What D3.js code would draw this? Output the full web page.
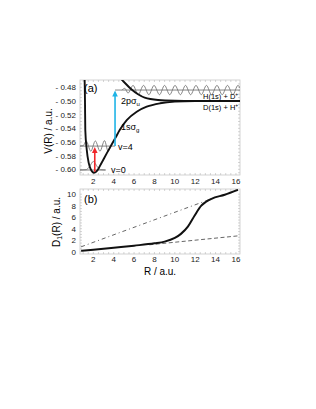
<!DOCTYPE html>
<html>
<head>
<meta charset="utf-8">
<script src="https://cdn.jsdelivr.net/npm/d3@7"></script>
<style>
  body { margin: 0; background: #fff; }
  text { font-family: "Liberation Sans", Arial, sans-serif; }
</style>
</head>
<body>
<script>
// ---- data ----
const rTicks = [2, 4, 6, 8, 10, 12, 14, 16]
const vTicks = [-0.48, -0.50, -0.52, -0.54, -0.56, -0.58, -0.60]
const dTicks = [0, 2, 4, 6, 8, 10]

// 1s sigma_g potential  [R, V]
const groundCurve = [[1.13, -0.462], [1.16, -0.480], [1.18, -0.500], [1.21, -0.5425], [1.35, -0.571],
    [1.55, -0.591], [1.75, -0.600], [2.07, -0.605], [2.4, -0.6015], [2.79, -0.591], [3.3, -0.577],
    [3.77, -0.5645], [4.2, -0.553], [4.59, -0.5425], [5.28, -0.528], [6.26, -0.5157], [7.24, -0.5084],
    [8.55, -0.5034], [10, -0.5010], [12, -0.5002], [16.4, -0.5]]
// 2p sigma_u potential
const excitedCurve = [[4.5, -0.462], [4.75, -0.468], [5.08, -0.4733], [5.73, -0.4829], [6.39, -0.4902],
    [7.04, -0.4952], [8.35, -0.4986], [10, -0.4996], [12, -0.4999], [16.4, -0.5]]

// vibrational levels and wave functions
const levelV0 = -0.601
const levelV4 = -0.566
const levelUp = -0.484
const waveV0 = [[0.69, -0.601], [1.3, -0.6005], [1.6, -0.5965], [2.0, -0.5885], [2.4, -0.5965],
    [2.7, -0.6005], [3.2, -0.601]]
const waveV4 = [[0.69, -0.566], [1.0, -0.5655], [1.3, -0.5585], [1.75, -0.5735], [2.2, -0.5585],
    [2.65, -0.5735], [3.1, -0.558], [3.45, -0.5735], [3.7, -0.566]]
const waveUp = [[4.8, -0.484], [5.1, -0.4815], [5.4, -0.4885], [5.9, -0.4772], [6.4, -0.4908],
    [6.93, -0.4772], [7.45, -0.4908], [7.96, -0.4772], [8.5, -0.4908], [8.99, -0.4772], [9.5, -0.4908],
    [10.02, -0.4772], [10.55, -0.4908], [11.05, -0.4772], [11.55, -0.4908], [12.08, -0.4772],
    [12.6, -0.4908], [13.11, -0.4772], [13.6, -0.4908], [14.14, -0.4772], [14.65, -0.4908],
    [15.17, -0.4772], [15.7, -0.4908], [16.2, -0.4772], [16.4, -0.481]]

// excitation arrows  [R, from V, to V]
const redArrow = [2.14, -0.6035, -0.5675]
const blueArrow = [4.13, -0.566, -0.4845]

// panel (b)  [R, D1]
const dipoleSolid = [[0.8, 0.15], [2, 0.35], [4, 0.7], [6, 1.05], [8, 1.45], [9, 1.75], [10, 2.4],
    [10.6, 3.1], [11.3, 4.4], [11.95, 6.3], [12.6, 8.0], [13.0, 8.6], [13.6, 9.2], [14.9, 9.9], [16.2, 10.75]]
const dipoleDashDot = [[0.8, 0.85], [13.6, 9.2]]
const dipoleDashed = [[7.5, 1.2], [16.2, 2.75]]

// ---- layout ----
const width = 316, height = 409
const svg = d3.select("body").append("svg")
    .attr("width", width)
    .attr("height", height)

const x = d3.scaleLinear().domain([0.69, 16.4]).range([80, 240])
const yA = d3.scaleLinear().domain([-0.6083, -0.4693]).range([175, 80])
const yB = d3.scaleLinear().domain([-0.4, 10.9]).range([254, 189])

svg.append("defs").append("clipPath").attr("id", "clipA")
    .append("rect").attr("x", 80).attr("y", 80).attr("width", 160).attr("height", 95)
svg.select("defs").append("clipPath").attr("id", "clipB")
    .append("rect").attr("x", 80).attr("y", 189).attr("width", 160).attr("height", 65)

// frame with small grey ticks on every side
function frame(y, yMinor) {
    const g = svg.append("g")
    const [y0, y1] = y.range()
    g.append("rect").attr("x", 80).attr("y", y1).attr("width", 160).attr("height", y0 - y1)
        .attr("fill", "none").attr("stroke", "#c8c8c8").attr("stroke-width", 0.8)
    d3.range(1, 16.5, 0.5).forEach(function (r) {
        g.append("line").attr("x1", x(r)).attr("x2", x(r)).attr("y1", y0).attr("y2", y0 - 2)
            .attr("stroke", "#b8b8b8").attr("stroke-width", 0.6)
        g.append("line").attr("x1", x(r)).attr("x2", x(r)).attr("y1", y1).attr("y2", y1 + 2)
            .attr("stroke", "#b8b8b8").attr("stroke-width", 0.6)
    })
    yMinor.forEach(function (v) {
        g.append("line").attr("x1", 80).attr("x2", 82).attr("y1", y(v)).attr("y2", y(v))
            .attr("stroke", "#b8b8b8").attr("stroke-width", 0.6)
        g.append("line").attr("x1", 238).attr("x2", 240).attr("y1", y(v)).attr("y2", y(v))
            .attr("stroke", "#b8b8b8").attr("stroke-width", 0.6)
    })
    return g
}
frame(yA, d3.range(-0.605, -0.47, 0.005))
frame(yB, d3.range(0, 10.5, 0.5))

// tick labels
function xLabels(yPos) {
    svg.append("g").selectAll("text").data(rTicks).enter().append("text")
        .attr("x", d => x(d)).attr("y", yPos)
        .attr("text-anchor", "middle").attr("font-size", 8).attr("fill", "#222")
        .text(d => d)
}
xLabels(184)
xLabels(262)

svg.append("g").selectAll("text").data(vTicks).enter().append("text")
    .attr("x", 76).attr("y", d => yA(d) + 3)
    .attr("text-anchor", "end").attr("font-size", 8).attr("fill", "#222")
    .text(d => "- " + Math.abs(d).toFixed(2))

svg.append("g").selectAll("text").data(dTicks).enter().append("text")
    .attr("x", 76).attr("y", d => yB(d) + 3)
    .attr("text-anchor", "end").attr("font-size", 8).attr("fill", "#222")
    .text(d => d)

// axis titles
svg.append("text").attr("transform", "translate(52,131) rotate(-90)")
    .attr("text-anchor", "middle").attr("font-size", 10).text("V(R) / a.u.")
const dTitle = svg.append("text").attr("transform", "translate(60,222) rotate(-90)")
    .attr("text-anchor", "middle").attr("font-size", 10)
dTitle.append("tspan").text("D")
dTitle.append("tspan").attr("font-size", 7).attr("dy", 2).text("1")
dTitle.append("tspan").attr("dy", -2).text("(R) / a.u.")
svg.append("text").attr("x", 160).attr("y", 275).attr("text-anchor", "middle")
    .attr("font-size", 10).text("R / a.u.")

// ---- panel (a) ----
const lineA = d3.line().x(d => x(d[0])).y(d => yA(d[1])).curve(d3.curveMonotoneX)
const pa = svg.append("g").attr("clip-path", "url(#clipA)")

// vibrational levels (grey)
pa.append("line").attr("x1", x(0.69)).attr("x2", x(3.2)).attr("y1", yA(levelV0)).attr("y2", yA(levelV0))
    .attr("stroke", "#777").attr("stroke-width", 0.9)
pa.append("line").attr("x1", x(0.69)).attr("x2", x(blueArrow[0])).attr("y1", yA(levelV4)).attr("y2", yA(levelV4))
    .attr("stroke", "#777").attr("stroke-width", 0.9)
pa.append("line").attr("x1", x(blueArrow[0])).attr("x2", x(16.4)).attr("y1", yA(levelUp)).attr("y2", yA(levelUp))
    .attr("stroke", "#777").attr("stroke-width", 0.9)

const waves = [waveV0, waveV4, waveUp]
pa.selectAll(".wave").data(waves).enter().append("path")
    .attr("class", "wave")
    .attr("d", lineA)
    .attr("fill", "none").attr("stroke", "#777").attr("stroke-width", 0.9)

// potential curves
pa.selectAll(".pot").data([groundCurve, excitedCurve]).enter().append("path")
    .attr("class", "pot")
    .attr("d", lineA)
    .attr("fill", "none").attr("stroke", "#111").attr("stroke-width", 1.9)

// arrows
function arrow(a, color) {
    const ax = x(a[0]), ay0 = yA(a[1]), ay1 = yA(a[2])
    svg.append("line").attr("x1", ax).attr("x2", ax).attr("y1", ay0).attr("y2", ay1 + 5)
        .attr("stroke", color).attr("stroke-width", 1.6)
    svg.append("path")
        .attr("d", "M" + (ax - 2.8) + "," + (ay1 + 6) + "L" + ax + "," + ay1 + "L" + (ax + 2.8) + "," + (ay1 + 6) + "Z")
        .attr("fill", color)
}
arrow(redArrow, "#f0262a")
arrow(blueArrow, "#1fb4e6")

// labels
svg.append("text").attr("x", 84).attr("y", 92).attr("font-size", 11).text("(a)")
const l1 = svg.append("text").attr("x", 121).attr("y", 104).attr("font-size", 9)
l1.append("tspan").text("2pσ")
l1.append("tspan").attr("font-size", 6).attr("dy", 2).text("u")
const l2 = svg.append("text").attr("x", 121).attr("y", 130).attr("font-size", 9)
l2.append("tspan").text("1sσ")
l2.append("tspan").attr("font-size", 6).attr("dy", 2).text("g")
svg.append("text").attr("x", 118).attr("y", 150).attr("font-size", 9).text("v=4")
svg.append("text").attr("x", 111).attr("y", 173).attr("font-size", 9).text("v=0")
const l3 = svg.append("text").attr("x", 203).attr("y", 99).attr("font-size", 7.5)
l3.append("tspan").text("H(1s) + D")
l3.append("tspan").attr("font-size", 5).attr("dy", -3).text("+")
const l4 = svg.append("text").attr("x", 203).attr("y", 110).attr("font-size", 7.5)
l4.append("tspan").text("D(1s) + H")
l4.append("tspan").attr("font-size", 5).attr("dy", -3).text("+")

// ---- panel (b) ----
const lineB = d3.line().x(d => x(d[0])).y(d => yB(d[1])).curve(d3.curveMonotoneX)
const pb = svg.append("g").attr("clip-path", "url(#clipB)")

pb.append("path").datum(dipoleDashDot).attr("d", lineB)
    .attr("fill", "none").attr("stroke", "#555").attr("stroke-width", 0.9)
    .attr("stroke-dasharray", "4,3,1,3")
pb.append("path").datum(dipoleDashed).attr("d", lineB)
    .attr("fill", "none").attr("stroke", "#555").attr("stroke-width", 0.9)
    .attr("stroke-dasharray", "4,2.5")
pb.append("path").datum(dipoleSolid).attr("d", lineB)
    .attr("fill", "none").attr("stroke", "#111").attr("stroke-width", 2)

svg.append("text").attr("x", 84).attr("y", 203).attr("font-size", 11).text("(b)")
</script>
</body>
</html>
